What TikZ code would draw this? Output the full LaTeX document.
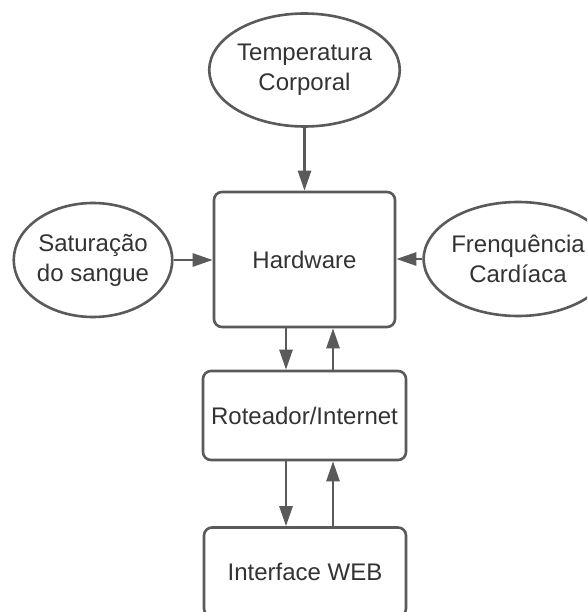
\documentclass[tikz,border=0pt]{standalone}
\usepackage{fontspec}
\setmainfont{Liberation Sans}
\usetikzlibrary{shapes.geometric, positioning, arrows.meta}
\definecolor{LinhaCinza}{HTML}{5A5A5A}
\definecolor{TextoCinza}{HTML}{333333}

\tikzset{
  bloco/.style={draw=LinhaCinza, line width=2.6pt, rounded corners=8pt, fill=white,
    text=TextoCinza, font=\fontsize{24}{30}\selectfont, align=center, inner sep=0pt},
  sensor/.style={ellipse, draw=LinhaCinza, line width=2.6pt, fill=white,
    text=TextoCinza, font=\fontsize{24}{30}\selectfont, align=center, inner sep=0pt},
  seta/.style={draw=LinhaCinza, line width=2.6pt,
    -{Triangle[length=20pt, width=13pt]}}
}

\begin{document}
\begin{tikzpicture}[x=1pt, y=-1pt]
                \clip (0,0) rectangle (587,612);
                \fill[white] (0,0) rectangle (587,612);

                % Sensores
                \node[sensor, minimum width=159pt, minimum height=113pt] (temp) at (304.5, 70) {Temperatura\\Corporal};
                \node[sensor, minimum width=158pt, minimum height=114pt] (sat) at (93, 260) {Saturação\\do sangue};
                \node[sensor, minimum width=158pt, minimum height=114pt] (freq) at (518, 259) {Frenquência\\Cardíaca};

                % Blocos
                \node[bloco, minimum width=181pt, minimum height=135pt] (hw) at (304.5, 259.5) {Hardware};
                \node[bloco, minimum width=203pt, minimum height=89pt] (rot) at (304.5, 415.5) {Roteador/Internet};
                \node[bloco, minimum width=202pt, minimum height=89pt] (web) at (305, 572) {Interface WEB};

                % Ligacoes
                \draw[seta] (temp.south) -- (hw.north);
                \draw[seta] (sat.east) -- (sat.east -| hw.west);
                \draw[seta] (freq.west) -- (freq.west -| hw.east);
                \draw[seta] ([xshift=-18.5pt]hw.south) -- ([xshift=-18.5pt]rot.north);
                \draw[seta] ([xshift=28.5pt]rot.north) -- ([xshift=28.5pt]hw.south);
                \draw[seta] ([xshift=-18.5pt]rot.south) -- ([xshift=-19pt]web.north);
                \draw[seta] ([xshift=28pt]web.north) -- ([xshift=28.5pt]rot.south);
            \end{tikzpicture}
\end{document}
